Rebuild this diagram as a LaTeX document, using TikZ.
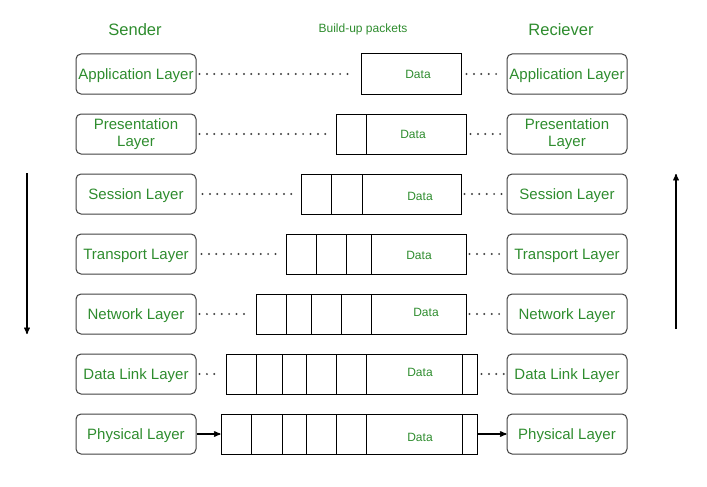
\documentclass[tikz,border=0pt]{standalone}
\usepackage{fontspec}
\setmainfont{Liberation Sans}
\usetikzlibrary{arrows}
\usetikzlibrary{positioning}
\definecolor{lyrgreen}{RGB}{46,140,46}
\tikzset{
	lyrnode/.style = {align=center, inner sep=0pt, text centered,
		lyrgreen, font=\fontsize{15}{17}\selectfont},
	lyr_box/.style = {lyrnode, rectangle, rounded corners=5pt, draw=black!75,
		line width=1pt, minimum width=120pt, minimum height=40pt},% couche
	lyr_one/.style = {lyr_box, text height=14pt, text depth=3pt},% couche, une ligne
	pkt_box/.style = {rectangle, draw=black, line width=1pt, inner sep=0pt,
		minimum height=40pt},% paquet
	pkt_data/.style = {inner sep=0pt, lyrgreen, font=\fontsize{12}{14}\selectfont},% donnees
	lnk_dot/.style = {line width=2.2pt, black!75, line cap=round,
		dash pattern=on 0pt off 7.4pt},% liaison pointillee
	lnk_arr/.style = {->, >=stealth', line width=1.3pt}
}
\begin{document}
\begin{tikzpicture}[x=1pt,y=-1pt]
	\useasboundingbox (0,0) rectangle (707,487);
	% titres
	\node [lyrnode, font=\fontsize{16.5}{18}\selectfont] (sender) at (135,30) {Sender};
	\node [pkt_data] (build) at (363,29) {Build-up packets};
	\node [lyrnode, font=\fontsize{16.5}{18}\selectfont] (receiver) at (561,30) {Reciever};
	% emetteur
	\node [lyr_one] (sl1) at (136,74) {Application Layer};
	\node [lyr_box, below=19pt of sl1] (sl2) {Presentation\\Layer};
	\node [lyr_one, below=19pt of sl2] (sl3) {Session Layer};
	\node [lyr_one, below=19pt of sl3] (sl4) {Transport Layer};
	\node [lyr_one, below=19pt of sl4] (sl5) {Network Layer};
	\node [lyr_one, below=19pt of sl5] (sl6) {Data Link Layer};
	\node [lyr_one, below=19pt of sl6] (sl7) {Physical Layer};
	% recepteur
	\node [lyr_one, right=310pt of sl1] (rl1) {Application Layer};
	\node [lyr_box, below=19pt of rl1] (rl2) {Presentation\\Layer};
	\node [lyr_one, below=19pt of rl2] (rl3) {Session Layer};
	\node [lyr_one, below=19pt of rl3] (rl4) {Transport Layer};
	\node [lyr_one, below=19pt of rl4] (rl5) {Network Layer};
	\node [lyr_one, below=19pt of rl5] (rl6) {Data Link Layer};
	\node [lyr_one, below=19pt of rl6] (rl7) {Physical Layer};
	% paquets
	\node [pkt_box, minimum width=100pt] (p1) at (411,74) {};
	\node [pkt_box, minimum width=130pt] (p2) at (401,134) {};
	\node [pkt_box, minimum width=160pt] (p3) at (381,194) {};
	\node [pkt_box, minimum width=180pt] (p4) at (376,254) {};
	\node [pkt_box, minimum width=210pt] (p5) at (361,314) {};
	\node [pkt_box, minimum width=251pt] (p6) at (351.5,374) {};
	\node [pkt_box, minimum width=256pt] (p7) at (349,434) {};
	\foreach \x in {366} \draw [line width=1pt] (\x,114) -- (\x,154);
	\foreach \x in {331,362} \draw [line width=1pt] (\x,174) -- (\x,214);
	\foreach \x in {316,346,371} \draw [line width=1pt] (\x,234) -- (\x,274);
	\foreach \x in {286,311,341,371} \draw [line width=1pt] (\x,294) -- (\x,334);
	\foreach \x in {256,282,306,336,366,462} \draw [line width=1pt] (\x,354) -- (\x,394);
	\foreach \x in {251,282,306,336,366,462} \draw [line width=1pt] (\x,414) -- (\x,454);
	\node [pkt_data] (d1) at (418,74) {Data};
	\node [pkt_data] (d2) at (413,134) {Data};
	\node [pkt_data] (d3) at (420,196) {Data};
	\node [pkt_data] (d4) at (419,255) {Data};
	\node [pkt_data] (d5) at (426,312) {Data};
	\node [pkt_data] (d6) at (420,372) {Data};
	\node [pkt_data] (d7) at (420,437) {Data};
	% liaisons
	\draw [lnk_dot, shorten <=3pt, shorten >=10pt] (sl1) -- (p1);
	\draw [lnk_dot, shorten <=3pt, shorten >=8pt] (sl2) -- (p2);
	\draw [lnk_dot, shorten <=6pt, shorten >=6pt] (sl3) -- (p3);
	\draw [lnk_dot, shorten <=5pt, shorten >=9pt] (sl4) -- (p4);
	\draw [lnk_dot, shorten <=3pt, shorten >=6pt] (sl5) -- (p5);
	\draw [lnk_dot, shorten <=3pt, shorten >=6pt] (sl6) -- (p6);
	\draw [lnk_dot, shorten <=5pt, shorten >=4pt] (p1) -- (rl1);
	\draw [lnk_dot, shorten <=4pt, shorten >=4pt] (p2) -- (rl2);
	\draw [lnk_dot, shorten <=3pt, shorten >=4pt] (p3) -- (rl3);
	\draw [lnk_dot, shorten <=3pt, shorten >=4pt] (p4) -- (rl4);
	\draw [lnk_dot, shorten <=3pt, shorten >=4pt] (p5) -- (rl5);
	\draw [lnk_dot, shorten <=4pt, shorten >=2pt] (p6) -- (rl6);
	\draw [lnk_arr] (sl7) -- (p7);
	\draw [lnk_arr] (p7) -- (rl7);
	% sens
	\coordinate (dn_s) at (27,173);
	\coordinate (dn_e) at (27,334);
	\coordinate (up_s) at (676,329);
	\coordinate (up_e) at (676,174);
	\draw [lnk_arr] (dn_s) -- (dn_e);
	\draw [lnk_arr] (up_s) -- (up_e);
\end{tikzpicture}
\end{document}
